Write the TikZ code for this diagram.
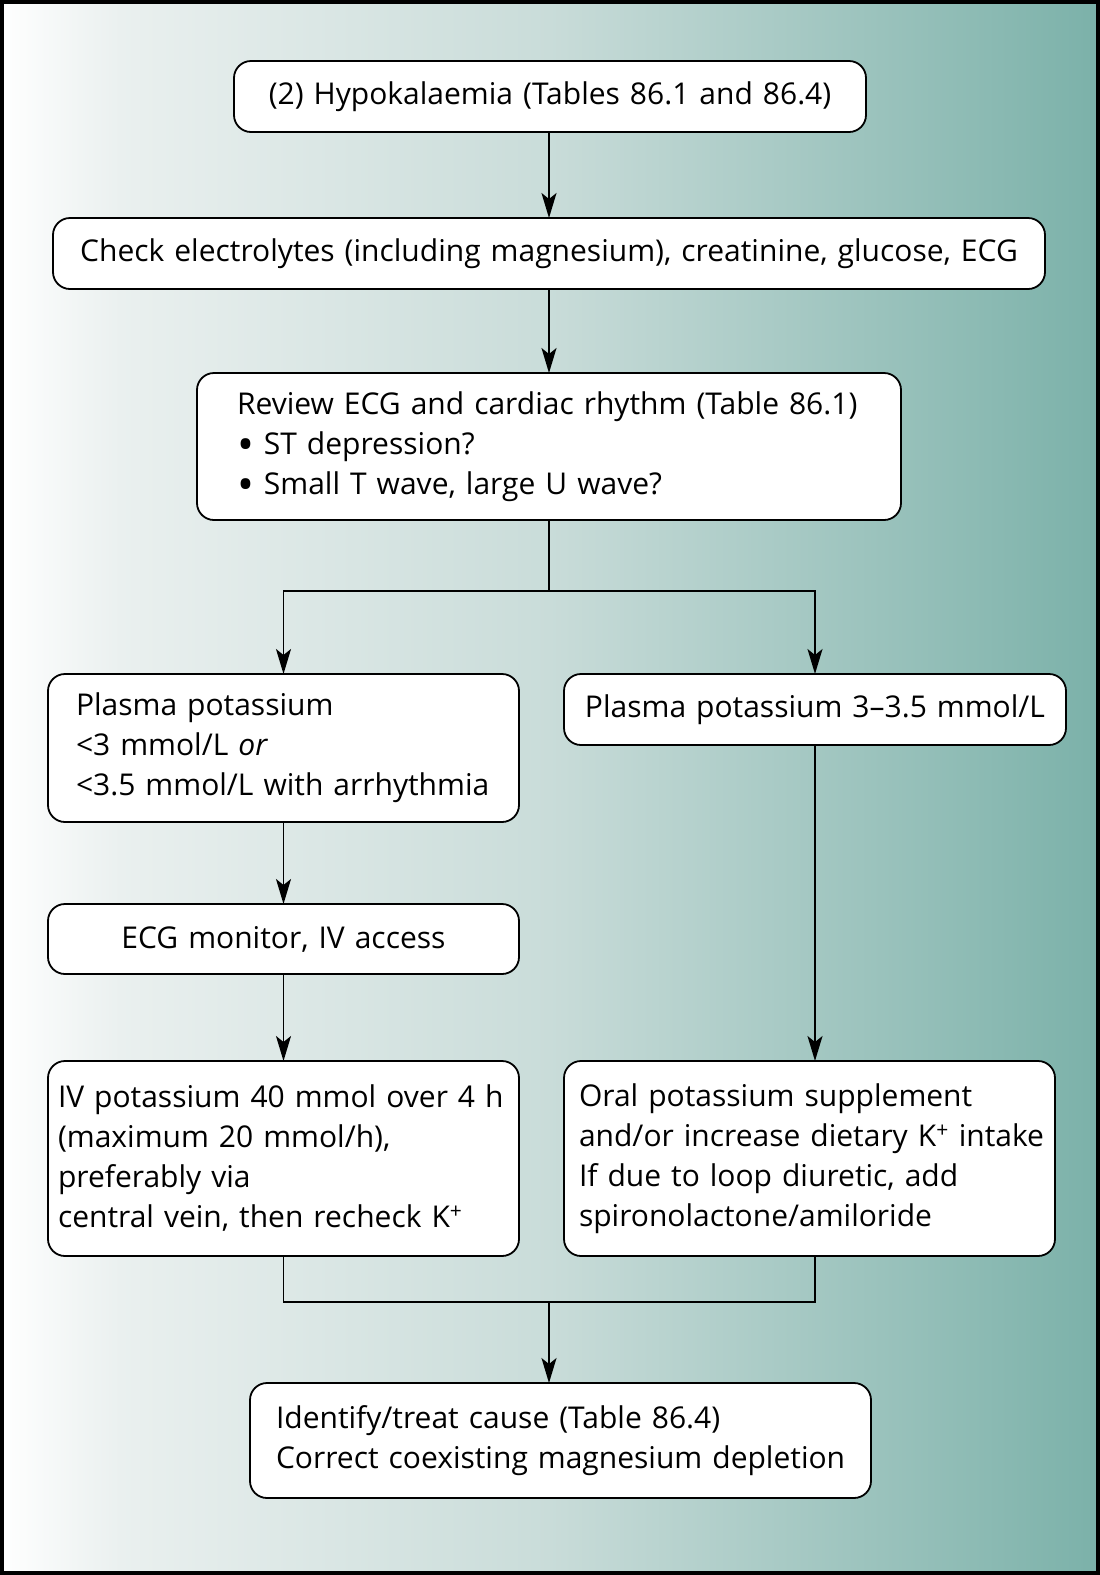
\documentclass[tikz,border=0pt]{standalone}
\usepackage{fontspec}
\usepackage{graphicx}
\setmainfont{Open Sans}
\usetikzlibrary{arrows.meta,calc}
\definecolor{g1}{HTML}{EAF0EF}
\definecolor{g2}{HTML}{C9DCD9}
\definecolor{g3}{HTML}{7BB1A9}
\newcommand{\bigbul}{\raisebox{-0.2em}{\scalebox{1.5}{\textbullet}}}
\begin{document}
\begin{tikzpicture}[x=1pt,y=-1pt,
  box/.style={draw=black, fill=white, line width=1.8pt, rounded corners=17pt,
    font=\fontsize{30}{40}\selectfont, inner ysep=0pt, outer sep=0pt},
  arr/.style={line width=1.8pt, -{Stealth[length=25pt,width=15pt,inset=6pt]}},
  ln/.style={line width=1.8pt}]
\useasboundingbox (0,0) rectangle (1100,1575);
% background
\shade[left color=white, right color=g1] (0,0) rectangle (120,1575);
\shade[left color=g1, right color=g2] (119.5,0) rectangle (550,1575);
\shade[left color=g2, right color=g3] (549.5,0) rectangle (1100,1575);
\draw[line width=4pt] (2,2) rectangle (1098,1573);
% nodes
\node[box, minimum width=632pt, minimum height=71pt, text width=612pt, inner xsep=10pt, align=center] (top) at (550,96.5)
  {(2) Hypokalaemia (Tables 86.1 and 86.4)};
\node[box, minimum width=992pt, minimum height=71pt, text width=972pt, inner xsep=10pt, align=center] (chk) at (549,253.5)
  {\mbox{Check electrolytes (including magnesium), creatinine, glucose, ECG}};
\node[box, minimum width=704pt, minimum height=147pt, text width=624pt, inner xsep=40pt, align=left] (rev) at (549,446.5)
  {Review ECG and cardiac rhythm (Table 86.1)\\ \bigbul\ ST depression?\\ \bigbul\ Small T wave, large U wave?};
\node[box, minimum width=471pt, minimum height=148pt, text width=415pt, inner xsep=28pt, align=left] (pl) at (283.5,748)
  {Plasma potassium\\ {<}3 mmol/L \textit{or}\\ \mbox{{<}3.5 mmol/L with arrhythmia}};
\node[box, minimum width=502pt, minimum height=71pt, text width=482pt, inner xsep=10pt, align=center] (pr) at (815,709.5)
  {Plasma potassium 3–3.5 mmol/L};
\node[box, minimum width=471pt, minimum height=70pt, text width=451pt, inner xsep=10pt, align=center] (ecg) at (283.5,939)
  {ECG monitor, IV access};
\node[box, minimum width=471pt, minimum height=195pt, text width=451pt, inner xsep=10pt, align=left] (iv) at (283.5,1158.5)
  {\mbox{IV potassium 40 mmol over 4 h}\\ (maximum 20 mmol/h),\\ preferably via\\ \mbox{central vein, then recheck K\textsuperscript{+}}};
\node[box, minimum width=491pt, minimum height=195pt, text width=461pt, inner xsep=15pt, align=left] (oral) at (809.5,1158.5)
  {Oral potassium supplement\\ \mbox{and/or increase dietary K\textsuperscript{+} intake}\\ If due to loop diuretic, add\\ spironolactone/amiloride};
\node[box, minimum width=621pt, minimum height=115pt, text width=569pt, inner xsep=26pt, align=left] (id) at (560.5,1440.5)
  {Identify/treat cause (Table 86.4)\\ \mbox{Correct coexisting magnesium depletion}};
% connectors
\coordinate (br) at (549,591);
\coordinate (mg) at (549,1302);
\draw[arr] (top.south -| chk.north) -- (chk.north);
\draw[arr] (chk) -- (rev);
\draw[ln] (rev.south) -- (br);
\draw[arr] (br) -| (pl.north);
\draw[arr] (br) -| (pr.north);
\draw[arr] (pl) -- (ecg);
\draw[arr] (ecg) -- (iv);
\draw[arr] (pr.south) -- (pr.south |- oral.north);
\draw[ln] (iv.south) |- (mg);
\draw[ln] (pr.south |- oral.south) |- (mg);
\draw[arr] (mg) -- (mg |- id.north);
\end{tikzpicture}
\end{document}
